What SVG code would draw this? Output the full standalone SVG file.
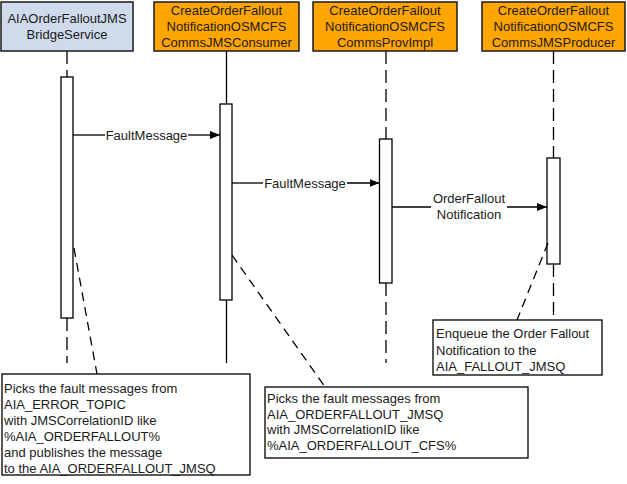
<svg xmlns="http://www.w3.org/2000/svg" width="627" height="484" viewBox="0 0 627 484">
<style>
text{font-family:"Liberation Sans",Arial,sans-serif;font-size:13px;fill:#1a1a1a}
.c{text-anchor:middle}
.box{stroke:#1a1a1a;stroke-width:1.5}
.orange{fill:#ffa500}
.blue{fill:#cfdbec}
.life{stroke:#000;stroke-width:1.3;fill:none}
.dash{stroke-dasharray:13,6}
.bar{fill:#fff;stroke:#000;stroke-width:1.3}
.msg{stroke:#000;stroke-width:1.3;fill:none}
.note{fill:#fff;stroke:#000;stroke-width:1.3}
.ndash{stroke:#000;stroke-width:1.3;stroke-dasharray:9,6;fill:none}
</style>
<defs>
<marker id="arr" viewBox="0 0 10 8" refX="10" refY="4" markerWidth="10" markerHeight="8" markerUnits="userSpaceOnUse" orient="auto">
<path d="M0,0 L10,4 L0,8 Z" fill="#000"/>
</marker>
</defs>
<g id="lifelines">
<path class="life dash" d="M67,51 V77 M67,318 V363"/>
<path class="life" d="M226.5,51 V363"/>
<path class="life dash" d="M386,51 V139 M386,283 V363"/>
<path class="life dash" d="M553.5,51 V158 M553.5,264 V320"/>
</g>
<g id="n1">
<rect class="box blue" x="1" y="2" width="132" height="49"/>
<text class="c" x="67" y="22.5">AIAOrderFalloutJMS</text>
<text class="c" x="67" y="38.5">BridgeService</text>
</g>
<g id="n2">
<rect class="box orange" x="154" y="2" width="145" height="49"/>
<text class="c" x="226.5" y="15">CreateOrderFallout</text>
<text class="c" x="226.5" y="31">NotificationOSMCFS</text>
<text class="c" x="226.5" y="47">CommsJMSConsumer</text>
</g>
<g id="n3">
<rect class="box orange" x="313" y="2" width="144" height="49"/>
<text class="c" x="385" y="15">CreateOrderFallout</text>
<text class="c" x="385" y="31">NotificationOSMCFS</text>
<text class="c" x="385" y="47">CommsProvImpl</text>
</g>
<g id="n4">
<rect class="box orange" x="482" y="2" width="143" height="49"/>
<text class="c" x="553.5" y="15">CreateOrderFallout</text>
<text class="c" x="553.5" y="31">NotificationOSMCFS</text>
<text class="c" x="553.5" y="47">CommsJMSProducer</text>
</g>
<g id="bars">
<rect class="bar" x="61" y="77" width="12" height="241"/>
<rect class="bar" x="220" y="104" width="12" height="196"/>
<rect class="bar" x="379.5" y="139" width="12.5" height="144"/>
<rect class="bar" x="547" y="158" width="13" height="106"/>
</g>
<g id="connectors">
<path class="msg" d="M73,135 H105"/>
<path class="msg" d="M188,135 H220" marker-end="url(#arr)"/>
<text class="c" x="146.5" y="139.5">FaultMessage</text>
<path class="msg" d="M232,183 H263"/>
<path class="msg" d="M347,183 H379.5" marker-end="url(#arr)"/>
<text class="c" x="305" y="187.5">FaultMessage</text>
<path class="msg" d="M392,207 H431"/>
<path class="msg" d="M507,207 H547" marker-end="url(#arr)"/>
<text class="c" x="469" y="202.5">OrderFallout</text>
<text class="c" x="469" y="218.5">Notification</text>
<path class="ndash" d="M74,248 L97,374"/>
<path class="ndash" d="M232,255 L325,387"/>
<path class="ndash" d="M548,243 L517,320"/>
</g>
<g id="note1">
<rect class="note" x="2" y="374" width="248" height="101"/>
<text x="4" y="392.5">Picks the fault messages from</text>
<text x="4" y="408.5">AIA_ERROR_TOPIC</text>
<text x="4" y="424.5">with JMSCorrelationID like</text>
<text x="4" y="440.5">%AIA_ORDERFALLOUT%</text>
<text x="4" y="456.5">and publishes the message</text>
<text x="4" y="472.5">to the AIA_ORDERFALLOUT_JMSQ</text>
</g>
<g id="note2">
<rect class="note" x="265" y="387" width="263" height="71"/>
<text x="267" y="403">Picks the fault messages from</text>
<text x="267" y="418.5">AIA_ORDERFALLOUT_JMSQ</text>
<text x="267" y="434">with JMSCorrelationID like</text>
<text x="267" y="449.5">%AIA_ORDERFALLOUT_CFS%</text>
</g>
<g id="note3">
<rect class="note" x="433" y="320" width="169" height="55"/>
<text x="436" y="338">Enqueue the Order Fallout</text>
<text x="436" y="354.5">Notification to the</text>
<text x="436" y="370.5">AIA_FALLOUT_JMSQ</text>
</g>
</svg>
